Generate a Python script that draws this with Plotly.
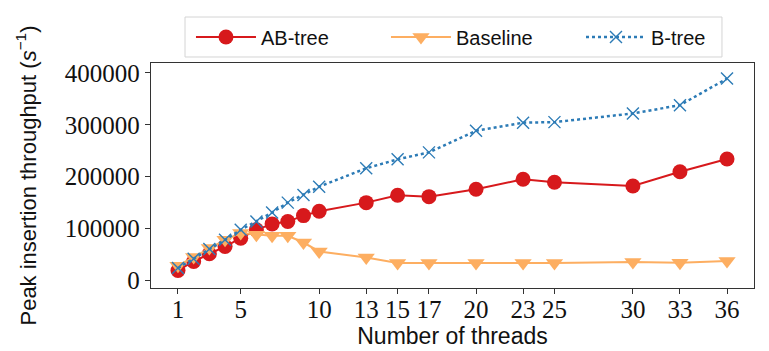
import plotly.graph_objects as go

threads = [1, 2, 3, 4, 5, 6, 7, 8, 9, 10, 13, 15, 17, 20, 23, 25, 30, 33, 36]
ab_tree = [19200, 36500, 51300, 65400, 81500, 97500, 109000, 113500, 125000, 133500,
           150000, 164200, 161500, 175800, 195000, 189200, 182100, 209600, 234000]
baseline = [28300, 45000, 62300, 78300, 91200, 87900, 86000, 86000, 73100, 55800,
            44200, 33500, 33500, 33500, 33500, 33500, 35400, 34000, 37300]
b_tree = [23800, 41700, 60400, 78300, 97500, 113500, 130800, 150000, 164800, 180800,
          216200, 233500, 246900, 288500, 304200, 305200, 321900, 337900, 389200]

x_ticks = [1, 5, 10, 13, 15, 17, 20, 23, 25, 30, 33, 36]
y_ticks = [0, 100000, 200000, 300000, 400000]
y_ticktext = ["0", "100000", "200000", "300000", "400000"]

RED = "#d7191c"
ORANGE = "#fdae61"
BLUE = "#2c7bb6"

fig = go.Figure()
fig.add_trace(go.Scatter(
    x=threads, y=ab_tree, name="AB-tree", mode="lines+markers",
    line=dict(color=RED, width=2),
    marker=dict(symbol="circle", size=15, color=RED, line=dict(width=0)),
))
fig.add_trace(go.Scatter(
    x=threads, y=baseline, name="Baseline", mode="lines+markers",
    line=dict(color=ORANGE, width=2),
    marker=dict(symbol="triangle-down", size=15, color=ORANGE, line=dict(width=0)),
))
fig.add_trace(go.Scatter(
    x=threads, y=b_tree, name="B-tree", mode="lines+markers",
    line=dict(color=BLUE, width=2.5, dash="dot"),
    marker=dict(symbol="x-thin", size=12, color=BLUE, line=dict(width=1.4, color=BLUE)),
))

axis_common = dict(
    showline=True, linecolor="#333333", linewidth=1.3, mirror=True,
    ticks="outside", ticklen=5, tickwidth=1.2, tickcolor="#333333",
    showgrid=False, zeroline=False,
    tickfont=dict(family="Liberation Serif", size=25, color="#111111"),
)

fig.update_xaxes(
    range=[-0.72, 37.72], tickmode="array", tickvals=x_ticks,
    ticktext=[str(t) for t in x_ticks], ticklabelstandoff=-6,
    title=dict(text="Number of threads", standoff=2,
               font=dict(family="Liberation Sans", size=23, color="#111111")),
    **axis_common,
)
fig.update_yaxes(
    range=[-14600, 419200], tickmode="array", tickvals=y_ticks, ticktext=y_ticktext,
    title=dict(text="Peak insertion throughput (<i>s</i><sup>−1</sup>)", standoff=22,
               font=dict(family="Liberation Sans", size=22, color="#111111")),
    **axis_common,
)

# legend frame
fig.add_shape(
    type="rect", xref="paper", yref="paper",
    x0=0.0564, x1=0.9469, y0=1.0267, y1=1.2044,
    line=dict(color="#d4d4d4", width=1), fillcolor="white", layer="below",
)

fig.update_layout(
    width=761, height=343,
    margin=dict(l=143, r=15, t=55, b=63, autoexpand=False),
    paper_bgcolor="white", plot_bgcolor="white",
    showlegend=True,
    legend=dict(
        orientation="h", x=0.0663, xanchor="left", y=1.1156, yanchor="middle",
        font=dict(family="Liberation Sans", size=20, color="#111111"),
        borderwidth=0, bgcolor="rgba(0,0,0,0)",
        entrywidth=120, itemwidth=60,
    ),
)

fig.write_html("out.html")
